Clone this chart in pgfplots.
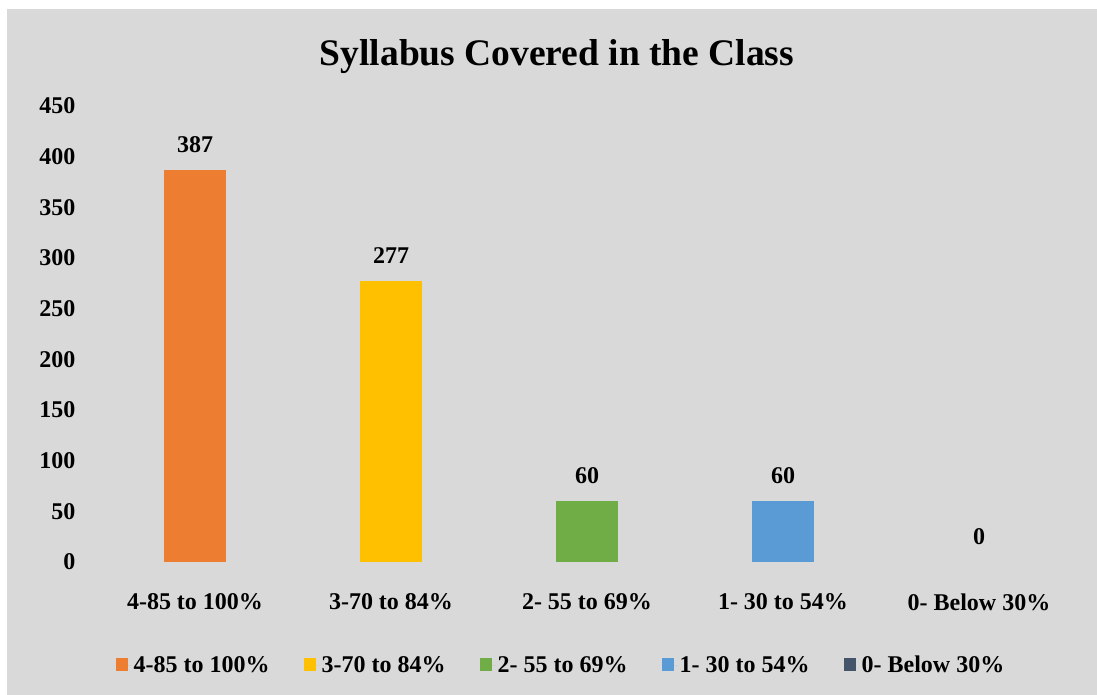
\documentclass[border=0pt]{standalone}
\usepackage{pgfplots}
\pgfplotsset{compat=1.18}
\usepackage{fontspec}
\setmainfont{Liberation Serif}
\definecolor{bgc}{HTML}{D9D9D9}
\definecolor{c1}{HTML}{ED7D31}
\definecolor{c2}{HTML}{FFC000}
\definecolor{c3}{HTML}{70AD47}
\definecolor{c4}{HTML}{5B9BD5}
\definecolor{c5}{HTML}{44546A}
\newcommand{\lf}{\fontsize{24}{28}\selectfont\bfseries}
\begin{document}
\begin{tikzpicture}[x=1pt,y=1pt]
\path[use as bounding box] (0,0) rectangle (1097,695);
\fill[bgc] (7,0) rectangle (1097,686);
\node[font=\fontsize{37.5}{42}\selectfont\bfseries] at (557,638) {Syllabus Covered in the Class};
\begin{axis}[
  at={(97pt,133pt)}, anchor=south west,
  scale only axis, width=980pt, height=456pt,
  xmin=-0.5, xmax=4.5, ymin=0, ymax=450,
  ytick={0,50,...,450},
  xtick={0,1,2,3,4},
  xticklabels={4-85 to 100\%,3-70 to 84\%,2- 55 to 69\%,1- 30 to 54\%,0- Below 30\%},
  axis line style={draw=none},
  major tick style={draw=none},
  /pgf/number format/assume math mode=true,
  yticklabel style={font=\lf, xshift=-18pt},
  xticklabel style={font=\lf, yshift=-24pt},
  ybar, bar width=62pt, bar shift=0pt,
  nodes near coords,
  every node near coord/.append style={font=\lf, yshift=14pt, text=black},
  legend style={at={(0.4735,-0.226)}, anchor=center, draw=none, fill=none, font=\lf,
    legend columns=5, /tikz/every even column/.append style={column sep=32pt}},
  legend image code/.code={\fill[#1] (0pt,-6pt) rectangle (12pt,7pt); \path (0pt,0pt) -- (16pt,0pt);},
]
\addplot[fill=c1, draw=none] coordinates {(0,387)};
\addplot[fill=c2, draw=none] coordinates {(1,277)};
\addplot[fill=c3, draw=none] coordinates {(2,60)};
\addplot[fill=c4, draw=none] coordinates {(3,60)};
\addplot[fill=none, draw=none, legend image code/.code={\fill[c5] (0pt,-6pt) rectangle (12pt,7pt); \path (0pt,0pt) -- (16pt,0pt);}] coordinates {(4,0)};
\legend{4-85 to 100\%,3-70 to 84\%,2- 55 to 69\%,1- 30 to 54\%,0- Below 30\%}
\end{axis}
\end{tikzpicture}
\end{document}
